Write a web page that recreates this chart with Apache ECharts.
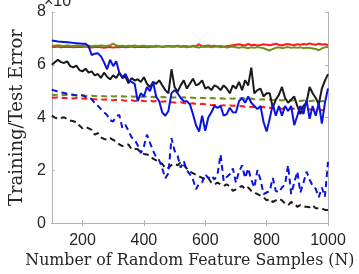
<!DOCTYPE html>
<html><head><meta charset="utf-8">
<script src="https://cdn.jsdelivr.net/npm/echarts@6/dist/echarts.min.js"></script>
<style>html,body{margin:0;padding:0;background:#fff}#c{width:359px;height:274px}</style>
</head><body><div id="c"></div>
<script>
const N = [100,110,120,130,140,150,160,170,180,190,200,210,220,230,240,250,260,270,280,290,300,310,320,330,340,350,360,370,380,390,400,410,420,430,440,450,460,470,480,490,500,510,520,530,540,550,560,570,580,590,600,610,620,630,640,650,660,670,680,690,700,710,720,730,740,750,760,770,780,790,800,810,820,830,840,850,860,870,880,890,900,910,920,930,940,950,960,970,980,990,1000];
const xTicks = [200,400,600,800,1000];
const yTicks = [0,2,4,6,8];

const redSolid = [6.68,6.67,6.69,6.66,6.68,6.67,6.68,6.66,6.67,6.68,6.67,6.69,6.66,6.65,6.67,6.68,6.66,6.64,6.66,6.67,6.65,6.67,6.66,6.68,6.66,6.67,6.69,6.66,6.68,6.67,6.68,6.66,6.67,6.69,6.68,6.70,6.67,6.69,6.71,6.68,6.70,6.72,6.69,6.71,6.70,6.68,6.72,6.70,6.78,6.69,6.71,6.73,6.70,6.72,6.69,6.71,6.68,6.70,6.72,6.74,6.76,6.78,6.75,6.73,6.79,6.74,6.76,6.73,6.75,6.78,6.76,6.74,6.77,6.80,6.76,6.73,6.77,6.79,6.76,6.75,6.78,6.76,6.79,6.77,6.81,6.78,6.76,6.80,6.77,6.78,6.75];
const greenSolid = [6.73,6.72,6.74,6.72,6.71,6.73,6.72,6.71,6.73,6.72,6.71,6.73,6.72,6.70,6.72,6.71,6.73,6.72,6.71,6.74,6.80,6.73,6.71,6.72,6.70,6.72,6.71,6.73,6.70,6.71,6.72,6.70,6.71,6.69,6.72,6.70,6.68,6.70,6.69,6.71,6.68,6.70,6.67,6.69,6.66,6.68,6.70,6.67,6.65,6.69,6.67,6.69,6.66,6.68,6.70,6.66,6.68,6.65,6.67,6.69,6.66,6.64,6.67,6.65,6.63,6.66,6.64,6.67,6.65,6.63,6.58,6.54,6.60,6.64,6.66,6.63,6.65,6.67,6.64,6.66,6.64,6.66,6.63,6.65,6.64,6.62,6.60,6.55,6.62,6.66,6.67];
const blueSolid = [6.92,6.90,6.88,6.87,6.86,6.85,6.84,6.83,6.82,6.81,6.80,6.80,6.70,6.37,6.42,6.44,6.32,6.10,5.83,6.19,5.95,6.13,5.70,5.53,5.65,5.41,5.35,5.28,4.62,4.92,4.80,5.16,5.00,5.35,4.80,4.62,4.19,4.07,4.25,4.92,5.04,4.92,4.74,4.62,4.62,4.50,4.13,3.71,3.47,4.07,3.50,4.00,4.20,4.44,4.37,4.44,4.07,4.13,4.37,4.20,4.19,4.62,4.74,4.56,4.80,4.56,4.44,4.32,4.44,3.83,3.47,3.95,4.50,4.07,4.44,4.07,4.44,4.25,4.44,3.71,4.07,4.44,4.13,4.68,3.95,4.44,4.07,4.56,3.77,4.56,5.10];
const blackSolid = [6.00,6.10,6.19,6.10,6.07,6.13,5.95,5.90,5.97,5.80,5.75,5.85,5.70,5.75,5.60,5.65,5.50,5.70,5.55,5.45,5.60,5.50,5.70,5.50,5.55,5.30,5.50,5.40,5.45,5.35,5.53,5.28,5.16,5.35,5.28,5.41,5.22,5.04,4.92,5.83,5.16,4.98,5.22,5.41,5.10,5.28,5.47,5.22,5.28,5.41,5.10,5.16,5.04,5.22,5.16,5.04,5.22,5.10,4.92,5.22,5.10,5.35,5.04,5.41,5.22,5.89,4.92,5.04,5.10,4.80,4.92,4.92,4.38,4.68,4.86,5.16,4.74,4.56,4.68,4.80,4.44,4.13,4.44,4.56,5.16,4.92,4.74,4.50,5.10,5.40,5.64];
const redDashed = [4.76,4.75,4.77,4.74,4.75,4.73,4.74,4.72,4.74,4.73,4.72,4.71,4.73,4.70,4.69,4.68,4.70,4.67,4.68,4.66,4.66,4.67,4.65,4.66,4.64,4.65,4.66,4.63,4.64,4.65,4.63,4.62,4.64,4.61,4.63,4.62,4.60,4.62,4.59,4.58,4.57,4.56,4.58,4.55,4.53,4.52,4.54,4.51,4.50,4.52,4.50,4.49,4.47,4.48,4.46,4.45,4.47,4.44,4.46,4.45,4.45,4.43,4.44,4.41,4.42,4.40,4.41,4.39,4.38,4.40,4.36,4.37,4.35,4.36,4.34,4.33,4.35,4.33,4.32,4.34,4.32,4.31,4.33,4.30,4.31,4.30,4.29,4.31,4.28,4.29,4.27];
const greenDashed = [4.86,4.85,4.87,4.84,4.86,4.85,4.83,4.85,4.84,4.82,4.84,4.83,4.81,4.83,4.82,4.80,4.82,4.81,4.80,4.82,4.80,4.81,4.79,4.81,4.80,4.78,4.80,4.79,4.81,4.78,4.80,4.79,4.77,4.79,4.78,4.76,4.78,4.77,4.75,4.77,4.76,4.78,4.75,4.77,4.74,4.76,4.75,4.73,4.75,4.74,4.74,4.72,4.74,4.73,4.71,4.73,4.72,4.70,4.72,4.71,4.73,4.72,4.74,4.71,4.70,4.72,4.69,4.70,4.68,4.69,4.67,4.68,4.66,4.68,4.67,4.65,4.67,4.66,4.64,4.66,4.65,4.63,4.65,4.64,4.62,4.64,4.63,4.61,4.63,4.62,4.61];
const blueDashed = [5.05,5.02,4.98,4.95,4.93,4.90,4.88,4.86,4.84,4.82,4.85,4.78,4.75,4.70,4.55,4.45,4.32,4.20,4.10,3.90,3.85,4.05,4.10,3.60,3.72,3.50,3.25,3.15,2.95,2.65,2.90,3.35,3.04,2.74,2.50,2.38,2.07,1.70,1.89,3.22,2.74,2.55,2.10,2.35,2.00,1.85,1.65,1.28,1.50,1.55,1.85,1.70,1.80,1.65,1.85,2.60,1.60,1.75,1.85,2.07,1.53,1.95,2.19,1.71,2.07,1.65,1.35,2.01,1.65,1.10,1.16,1.22,1.71,1.22,1.16,1.35,1.47,2.19,1.10,1.53,1.95,1.16,1.53,1.95,1.65,1.41,1.30,0.98,1.35,1.00,2.32];
const blackDashed = [4.07,4.00,3.95,3.98,4.01,3.95,3.89,3.86,3.83,3.70,3.59,3.65,3.59,3.53,3.35,3.41,3.25,3.19,3.16,3.22,3.15,3.10,2.98,2.92,2.95,2.98,2.80,2.82,2.80,2.68,2.62,2.60,2.56,2.44,2.38,2.30,2.25,2.07,2.10,2.20,2.25,2.19,2.31,2.20,2.07,1.95,1.89,1.83,1.77,1.71,1.65,1.71,1.53,1.47,1.53,1.47,1.41,1.47,1.38,1.22,1.28,1.35,1.41,1.28,1.35,1.22,1.16,1.10,1.04,0.98,0.86,0.92,0.80,0.86,0.92,0.86,0.74,0.68,0.80,0.74,0.62,0.68,0.62,0.62,0.60,0.68,0.56,0.56,0.56,0.50,0.50];

const RED = '#ff1a1a', GREEN = '#6f8f1c', BLUE = '#0a14e0', BLACK = '#1a1a1a';
function mk(vals, color, dashed) {
  return {
    type: 'line', data: N.map((x, i) => [x, vals[i]]), showSymbol: false, symbol: 'none',
    lineStyle: { color: color, width: 2, type: dashed ? [6, 4] : 'solid' }, animation: false
  };
}
const AX = '#b3b3b3';
const chart = echarts.init(document.getElementById('c'), null, { renderer: 'canvas' });
chart.setOption({
  animation: false,
  title: {
    text: '×10', left: 44, top: -6, padding: 0,
    textStyle: { fontFamily: 'Liberation Sans', fontSize: 16, fontWeight: 'normal', color: '#262626' }
  },
  grid: { left: 43, right: 31, top: 12, bottom: 42 },
  xAxis: [{
    type: 'value', min: 100, max: 1000, position: 'bottom',
    name: 'Number of Random Feature Samples (N)', nameLocation: 'middle', nameGap: 26,
    nameTextStyle: { fontFamily: 'DejaVu Serif', fontSize: 15.8, color: '#262626' },
    axisLine: { show: true, lineStyle: { color: AX, width: 1 } },
    axisTick: { show: true, inside: true, length: 3, customValues: xTicks, lineStyle: { color: AX } },
    axisLabel: { customValues: xTicks, formatter: v => String(v), fontFamily: 'Liberation Sans', fontSize: 16, color: '#262626', margin: 9 },
    splitLine: { show: false }
  }, {
    type: 'value', min: 100, max: 1000, position: 'top',
    axisLine: { show: true, lineStyle: { color: AX, width: 1 } },
    axisTick: { show: true, inside: true, length: 3, customValues: xTicks, lineStyle: { color: AX } },
    axisLabel: { show: false }, splitLine: { show: false }
  }],
  yAxis: [{
    type: 'value', min: 0, max: 8, interval: 2, position: 'left',
    name: 'Training/Test Error', nameLocation: 'middle', nameGap: 23,
    nameTextStyle: { fontFamily: 'DejaVu Serif', fontSize: 18, color: '#262626' },
    axisLine: { show: true, lineStyle: { color: AX, width: 1 } },
    axisTick: { show: true, inside: true, length: 3, lineStyle: { color: AX } },
    axisLabel: { fontFamily: 'Liberation Sans', fontSize: 16, color: '#262626', margin: 6 },
    splitLine: { show: false }
  }, {
    type: 'value', min: 0, max: 8, interval: 2, position: 'right',
    axisLine: { show: true, lineStyle: { color: AX, width: 1 } },
    axisTick: { show: true, inside: true, length: 3, lineStyle: { color: AX } },
    axisLabel: { show: false }, splitLine: { show: false }
  }],
  series: [
    mk(greenDashed, GREEN, true),
    mk(redDashed, RED, true),
    mk(blackDashed, BLACK, true),
    mk(blueDashed, BLUE, true),
    mk(blackSolid, BLACK, false),
    mk(redSolid, RED, false),
    mk(greenSolid, GREEN, false),
    mk(blueSolid, BLUE, false)
  ]
});
</script></body></html>
